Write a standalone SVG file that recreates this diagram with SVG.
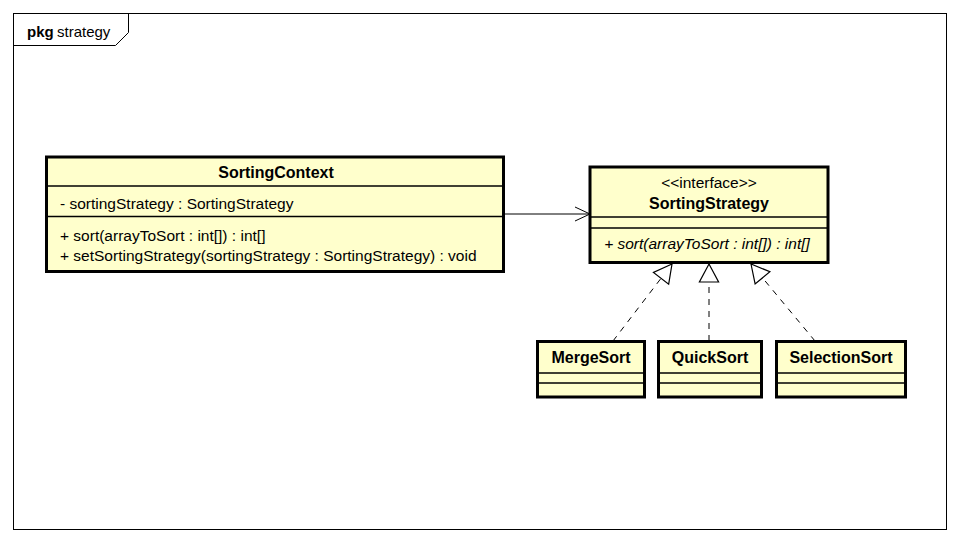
<svg xmlns="http://www.w3.org/2000/svg" width="960" height="544" viewBox="0 0 960 544">
<defs>
<style>
text{font-family:"Liberation Sans",Arial,sans-serif;font-size:15.5px;fill:#000}
.b{font-weight:bold;font-size:16px}
.i{font-style:italic}
.c{text-anchor:middle}
.p{font-size:15px}
.box{fill:#FFFFCC;stroke:#000;stroke-width:3}
.sep{stroke:#000;stroke-width:1.5;fill:none}
.ln{stroke:#000;stroke-width:1;fill:none}
.dash{stroke:#000;stroke-width:1;fill:none;stroke-dasharray:6,6}
</style>
<marker id="open" markerUnits="userSpaceOnUse" markerWidth="20" markerHeight="20" viewBox="-16 -10 20 20" refX="0" refY="0" orient="auto">
<path d="M-15,-7 L0,0 L-15,7" fill="none" stroke="#000" stroke-width="1"/>
</marker>
<marker id="tri" markerUnits="userSpaceOnUse" markerWidth="24" markerHeight="24" viewBox="-18 -10 20 20" refX="0" refY="0" orient="auto">
<path d="M0,0 L-15,-8 L-15,8 Z" fill="#fff" stroke="#000" stroke-width="1"/>
</marker>
</defs>
<rect x="0" y="0" width="960" height="544" fill="#fff"/>
<g id="frame">
<rect x="13.5" y="13.5" width="933" height="516" fill="none" stroke="#000" stroke-width="1"/>
<path d="M13.5,45.5 L115.5,45.5 L128.5,32.5 L128.5,13.5" class="ln"/>
<text x="27" y="37" class="b p">pkg</text>
<text x="57" y="37" class="p">strategy</text>
</g>
<g id="connectors">
<line x1="505" y1="214" x2="590" y2="214" class="ln" marker-end="url(#open)"/>
<line x1="613" y1="341" x2="672" y2="264" class="dash" marker-end="url(#tri)"/>
<line x1="709" y1="341" x2="709" y2="264" class="dash" marker-end="url(#tri)"/>
<line x1="815" y1="341" x2="751" y2="264" class="dash" marker-end="url(#tri)"/>
</g>
<g id="SortingContext">
<rect x="46.5" y="157" width="457" height="114.5" class="box"/>
<line x1="46.5" y1="186" x2="503.5" y2="186" class="sep"/>
<line x1="46.5" y1="216.5" x2="503.5" y2="216.5" class="sep"/>
<text x="276" y="178" class="b c">SortingContext</text>
<text x="60" y="209">- sortingStrategy : SortingStrategy</text>
<text x="60" y="241">+ sort(arrayToSort : int[]) : int[]</text>
<text x="60" y="261">+ setSortingStrategy(sortingStrategy : SortingStrategy) : void</text>
</g>
<g id="SortingStrategy">
<rect x="590" y="167" width="238" height="95.5" class="box"/>
<line x1="590" y1="217" x2="828" y2="217" class="sep"/>
<line x1="590" y1="228" x2="828" y2="228" class="sep"/>
<text x="709" y="188" class="c">&lt;&lt;interface&gt;&gt;</text>
<text x="709" y="209" class="b c">SortingStrategy</text>
<text x="707" y="249" class="i c">+ sort(arrayToSort : int[]) : int[]</text>
</g>
<g id="MergeSort">
<rect x="537.5" y="341.5" width="107" height="55.5" class="box"/>
<line x1="537.5" y1="373" x2="644.5" y2="373" class="sep"/>
<line x1="537.5" y1="383" x2="644.5" y2="383" class="sep"/>
<text x="591" y="363" class="b c">MergeSort</text>
</g>
<g id="QuickSort">
<rect x="658.5" y="341.5" width="103" height="55.5" class="box"/>
<line x1="658.5" y1="373" x2="761.5" y2="373" class="sep"/>
<line x1="658.5" y1="383" x2="761.5" y2="383" class="sep"/>
<text x="710" y="363" class="b c">QuickSort</text>
</g>
<g id="SelectionSort">
<rect x="776.5" y="341.5" width="129" height="55.5" class="box"/>
<line x1="776.5" y1="373" x2="905.5" y2="373" class="sep"/>
<line x1="776.5" y1="383" x2="905.5" y2="383" class="sep"/>
<text x="841" y="363" class="b c">SelectionSort</text>
</g>
</svg>
